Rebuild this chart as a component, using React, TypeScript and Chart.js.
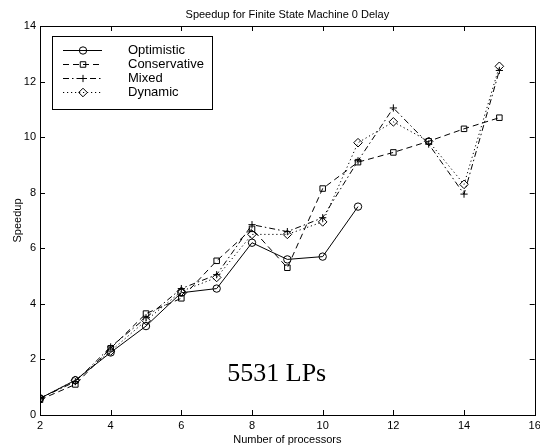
import React, { useEffect, useRef } from "react";
import { Chart, registerables } from "chart.js";
Chart.register(...registerables);

const processors = [2, 3, 4, 5, 6, 7, 8, 9, 10, 11, 12, 13, 14, 15];
const optimistic = [0.6, 1.25, 2.25, 3.2, 4.4, 4.55, 6.2, 5.6, 5.7, 7.5];
const conservative = [0.55, 1.1, 2.4, 3.65, 4.2, 5.55, 6.7, 5.3, 8.15, 9.1, 9.45, 9.85, 10.3, 10.7];
const mixed = [0.6, 1.2, 2.45, 3.5, 4.55, 5.05, 6.85, 6.6, 7.1, 9.15, 11.05, 9.75, 7.95, 12.4];
const dynamic = [0.6, 1.25, 2.3, 3.4, 4.45, 4.95, 6.5, 6.5, 6.95, 9.8, 10.55, 9.85, 8.3, 12.55];
const seriesNames = ["Optimistic", "Conservative", "Mixed", "Dynamic"];
const xTicks = [2, 4, 6, 8, 10, 12, 14, 16];
const yTicks = [0, 2, 4, 6, 8, 10, 12, 14];
const chartTitle = "Speedup for Finite State Machine 0 Delay";
const xLabel = "Number of processors";
const yLabel = "Speedup";
const annotation = "5531 LPs";
const annotationPos = { x: 7.3, y: 1.23 };

const SANS = "'Liberation Sans', Arial, Helvetica, sans-serif";

const styles = [
  { dash: [] as number[], point: "circle", r: 3.7 },
  { dash: [6, 4], point: "rect", r: 3.9 },
  { dash: [6, 3, 1.5, 3], point: "cross", r: 3.6 },
  { dash: [1.2, 2.8], point: "rectRot", r: 4.3 },
];

const toXY = (vals: number[]) => vals.map((v, i) => ({ x: processors[i], y: v }));

function drawPt(ctx: CanvasRenderingContext2D, style: string, r: number, x: number, y: number) {
  ctx.beginPath();
  if (style === "circle") {
    ctx.arc(x, y, r, 0, Math.PI * 2);
  } else if (style === "rect") {
    const s = Math.SQRT1_2 * r;
    ctx.rect(x - s, y - s, 2 * s, 2 * s);
  } else if (style === "cross") {
    ctx.moveTo(x - r, y);
    ctx.lineTo(x + r, y);
    ctx.moveTo(x, y - r);
    ctx.lineTo(x, y + r);
  } else if (style === "rectRot") {
    ctx.moveTo(x - r, y);
    ctx.lineTo(x, y - r);
    ctx.lineTo(x + r, y);
    ctx.lineTo(x, y + r);
    ctx.closePath();
  }
  ctx.stroke();
}

export default function App() {
  const ref = useRef<HTMLCanvasElement | null>(null);
  useEffect(() => {
    const canvas = ref.current!;
    const all = [optimistic, conservative, mixed, dynamic];
    const datasets = all.map((vals, i) => ({
      label: seriesNames[i],
      data: toXY(vals),
      borderColor: "#000",
      borderWidth: 1,
      borderDash: styles[i].dash,
      pointStyle: styles[i].point as any,
      pointRadius: styles[i].r,
      pointBorderColor: "#000",
      pointBorderWidth: 1,
      pointBackgroundColor: "rgba(0,0,0,0)",
      fill: false,
      tension: 0,
    }));

    const decor = {
      id: "decor",
      afterDraw(chart: any) {
        const ctx = chart.ctx as CanvasRenderingContext2D;
        const a = chart.chartArea;
        const xs = chart.scales.x;
        const ys = chart.scales.y;
        ctx.save();
        ctx.strokeStyle = "#000";
        ctx.lineWidth = 1;
        ctx.setLineDash([]);
        ctx.strokeRect(Math.round(a.left) + 0.5, Math.round(a.top) + 0.5, Math.round(a.right - a.left), Math.round(a.bottom - a.top));
        const tl = 5;
        ctx.beginPath();
        xTicks.forEach((t) => {
          const px = Math.round(xs.getPixelForValue(t)) + 0.5;
          ctx.moveTo(px, a.bottom);
          ctx.lineTo(px, a.bottom - tl);
          ctx.moveTo(px, a.top);
          ctx.lineTo(px, a.top + tl);
        });
        yTicks.forEach((t) => {
          const py = Math.round(ys.getPixelForValue(t)) + 0.5;
          ctx.moveTo(a.left, py);
          ctx.lineTo(a.left + tl, py);
          ctx.moveTo(a.right, py);
          ctx.lineTo(a.right - tl, py);
        });
        ctx.stroke();

        ctx.fillStyle = "#000";
        ctx.font = "11px " + SANS;
        // tick labels
        ctx.textAlign = "center";
        ctx.textBaseline = "middle";
        xTicks.forEach((t) => {
          ctx.fillText(String(t), xs.getPixelForValue(t), a.bottom + 11);
        });
        ctx.textAlign = "right";
        yTicks.forEach((t) => {
          ctx.fillText(String(t), a.left - 4, ys.getPixelForValue(t));
        });
        ctx.textAlign = "center";
        ctx.fillText(chartTitle, (a.left + a.right) / 2, 14.5);
        ctx.fillText(xLabel, (a.left + a.right) / 2, 439.5);
        ctx.save();
        ctx.translate(18, (a.top + a.bottom) / 2);
        ctx.rotate(-Math.PI / 2);
        ctx.fillText(yLabel, 0, 0);
        ctx.restore();

        // annotation
        ctx.font = "26px 'Liberation Serif', 'Times New Roman', serif";
        ctx.textAlign = "left";
        ctx.textBaseline = "alphabetic";
        ctx.fillText(annotation, xs.getPixelForValue(annotationPos.x), ys.getPixelForValue(annotationPos.y));

        // legend
        const lx = 52.5, ly = 36.5, lw = 160, lh = 73;
        ctx.fillStyle = "#fff";
        ctx.fillRect(lx, ly, lw, lh);
        ctx.strokeStyle = "#000";
        ctx.lineWidth = 1;
        ctx.strokeRect(lx, ly, lw, lh);
        ctx.font = "13px " + SANS;
        const rows = [50.5, 64.5, 78.5, 92.5];
        seriesNames.forEach((name, i) => {
          const y = rows[i];
          ctx.save();
          ctx.setLineDash(styles[i].dash);
          ctx.beginPath();
          ctx.moveTo(63, y);
          ctx.lineTo(102, y);
          ctx.stroke();
          ctx.restore();
          ctx.save();
          ctx.strokeStyle = "#000";
          ctx.lineWidth = 1;
          drawPt(ctx, styles[i].point, styles[i].r, 83, y);
          ctx.restore();
          ctx.fillStyle = "#000";
          ctx.textAlign = "left";
          ctx.textBaseline = "middle";
          ctx.fillText(name, 128, y);
        });
        ctx.restore();
      },
    };

    const chart = new Chart(canvas, {
      type: "line",
      data: { datasets: datasets as any },
      options: {
        animation: false,
        responsive: false,
        maintainAspectRatio: false,
        layout: { padding: { left: 0, top: 26, right: 5, bottom: 0 } },
        plugins: { legend: { display: false }, title: { display: false }, tooltip: { enabled: false } },
        scales: {
          x: {
            type: "linear",
            min: 2,
            max: 16,
            afterFit: (s: any) => { s.height = 30; s.paddingLeft = 0; s.paddingRight = 0; },
            grid: { display: false, drawTicks: false },
            border: { display: false },
            ticks: { display: false, stepSize: 2 },
          },
          y: {
            type: "linear",
            min: 0,
            max: 14,
            afterFit: (s: any) => { s.width = 40; s.paddingTop = 0; s.paddingBottom = 0; },
            grid: { display: false, drawTicks: false },
            border: { display: false },
            ticks: { display: false, stepSize: 2 },
          },
        },
      },
      plugins: [decor],
    });
    return () => chart.destroy();
  }, []);
  return (
    <div style={{ position: "fixed", left: 0, top: 0, width: 540, height: 445, background: "#fff" }}>
      <canvas ref={ref} width={540} height={445} style={{ width: 540, height: 445, display: "block" }} />
    </div>
  );
}
